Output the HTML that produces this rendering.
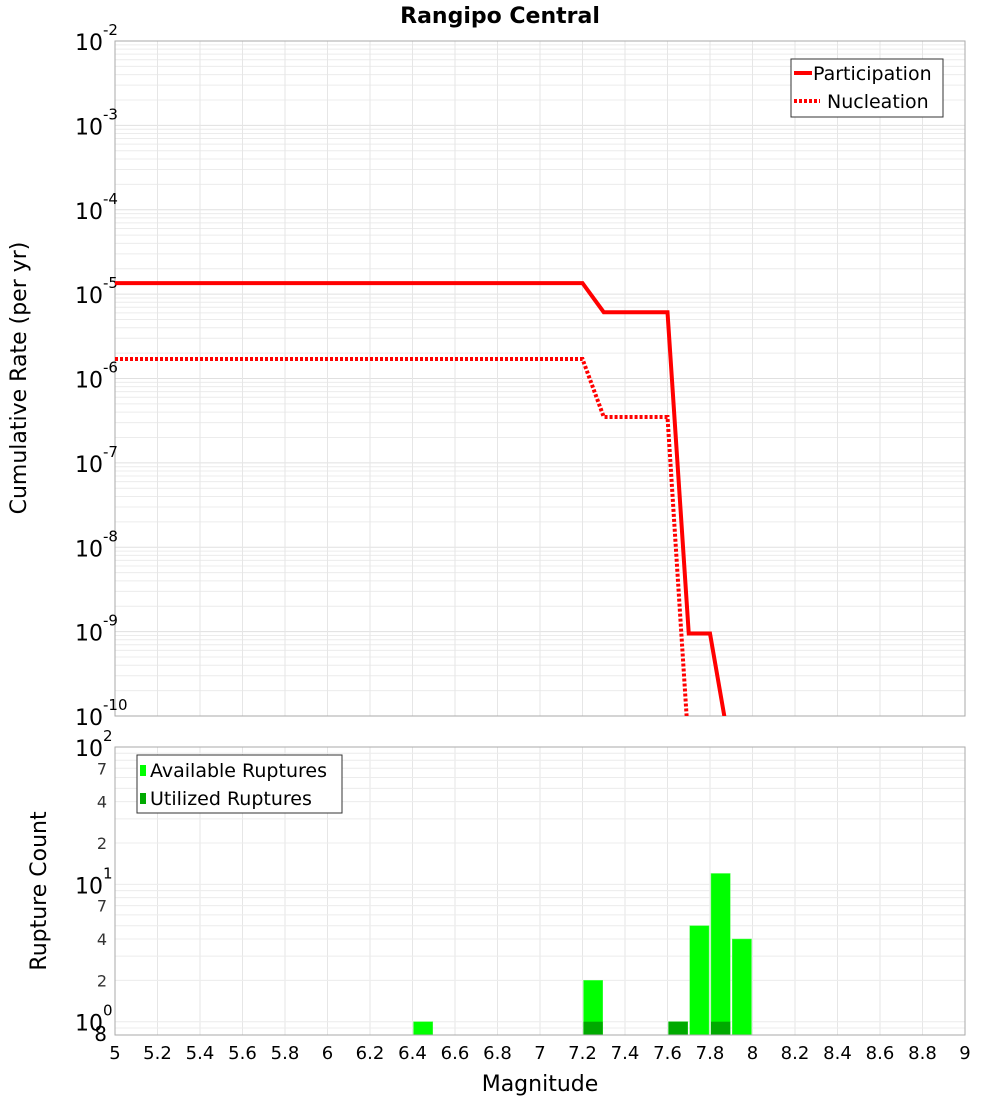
<!DOCTYPE html>
<html><head><meta charset="utf-8"><style>
body{margin:0;background:#fff;font-family:"Liberation Sans","DejaVu Sans",sans-serif}
svg text{font-family:"DejaVu Sans","Liberation Sans",sans-serif}
</style></head><body>
<svg id="chart" width="1000" height="1100" xmlns="http://www.w3.org/2000/svg">
<rect width="1000" height="1100" fill="#fff"/>
<text x="500" y="23" text-anchor="middle" font-size="22" font-weight="bold">Rangipo Central</text>
<g id="topg"></g><g id="botg"></g>
<text transform="translate(26,378) rotate(-90)" text-anchor="middle" font-size="22">Cumulative Rate (per yr)</text>
<text transform="translate(46,891) rotate(-90)" text-anchor="middle" font-size="22">Rupture Count</text>
<text x="540" y="1091" text-anchor="middle" font-size="22">Magnitude</text>
</svg>
<script>
const partMags=[5,7.2,7.3,7.6,7.7,7.8,7.9];
const partRates=[1.35e-5,1.35e-5,6.1e-6,6.1e-6,9.5e-10,9.5e-10,1e-12];
const nuclMags=[5,7.2,7.3,7.6,7.7];
const nuclRates=[1.7e-6,1.7e-6,3.5e-7,3.5e-7,4e-11];
const binMags=[6.45,7.25,7.65,7.75,7.85,7.95];
const availCounts=[1,2,1,5,12,4];
const utilMags=[7.25,7.65,7.85];
const utilCounts=[1,1,1];
const xTicks=[5,5.2,5.4,5.6,5.8,6,6.2,6.4,6.6,6.8,7,7.2,7.4,7.6,7.8,8,8.2,8.4,8.6,8.8,9];
const topExps=[-2,-3,-4,-5,-6,-7,-8,-9,-10];

const NS="http://www.w3.org/2000/svg";
const L=115,R=965,T1=41,B1=716,T2=747,B2=1035;
const X=m=>L+(m-5)*(R-L)/4;
const Y1=v=>T1+(-2-Math.log10(v))*(B1-T1)/8;
const lmin=Math.log10(0.8),lmax=2;
const Y2=v=>T2+(lmax-Math.log10(v))*(B2-T2)/(lmax-lmin);
function mk(tag,attrs,parent,txt){const e=document.createElementNS(NS,tag);for(const k in attrs)e.setAttribute(k,attrs[k]);if(txt!==undefined)e.textContent=txt;parent.appendChild(e);return e;}
const topG=document.getElementById('topg'),botG=document.getElementById('botg');

for(let e=-10;e<-2;e++)for(let k=1;k<10;k++){const y=Y1(k*Math.pow(10,e));
 const g=mk('line',{x1:L,x2:R,y1:y,y2:y,stroke:k==1?'#e0e0e0':'#ececec','stroke-width':1},topG);
 
 }
xTicks.forEach(m=>{const g=mk('line',{x1:X(m),x2:X(m),y1:T1,y2:B1,stroke:'#e6e6e6'},topG);
 
 
 const g2=mk('line',{x1:X(m),x2:X(m),y1:T2,y2:B2,stroke:'#e6e6e6'},botG);
 
 });
const f1=mk('rect',{x:L,y:T1,width:R-L,height:B1-T1,fill:'none',stroke:'#aaa'},topG);


topExps.forEach(e=>{const y=Y1(Math.pow(10,e));
 const t=mk('text',{x:103,y:y+9,'text-anchor':'end','font-size':22},topG,'10');
 
 
 const s=mk('text',{x:103,y:y-6,'font-size':15},topG,String(e));
 
 });
const defs=mk('defs',{},document.getElementById('chart'));
const cp=mk('clipPath',{id:'c1'},defs);mk('rect',{x:L,y:T1,width:R-L,height:B1-T1},cp);
function poly(ms,vs,dash,name){const pts=ms.map((m,i)=>X(m)+','+Math.min(Y1(vs[i]),B1+40)).join(' ');
 const p=mk('polyline',{points:pts,fill:'none',stroke:'#ff0000','stroke-width':4,'stroke-dasharray':dash,'clip-path':'url(#c1)'},topG);
 
 }
poly(partMags,partRates,'none','participation-line');
poly(nuclMags,nuclRates,'3,2','nucleation-line');
const lg=mk('g',{},topG);


mk('rect',{x:791,y:59,width:152,height:58,fill:'#fff',stroke:'#333'},lg);
mk('line',{x1:794,x2:812,y1:73,y2:73,stroke:'#f00','stroke-width':4},lg);
mk('line',{x1:794,x2:820,y1:101,y2:101,stroke:'#f00','stroke-width':4,'stroke-dasharray':'3,2'},lg);
mk('text',{x:813,y:80,'font-size':19},lg,'Participation');
mk('text',{x:827,y:108,'font-size':19},lg,'Nucleation');

for(let e=-1;e<2;e++)for(let k=1;k<10;k++){const v=k*Math.pow(10,e);if(v<0.8)continue;const y=Y2(v);
 const g=mk('line',{x1:L,x2:R,y1:y,y2:y,stroke:'#ececec'},botG);
 
 }
availCounts.forEach((c,i)=>{const r=mk('rect',{x:X(binMags[i]-0.05)+1,y:Y2(c),width:X(5.1)-X(5)-2,height:B2-Y2(c),fill:'#00ff00',stroke:'#5f5','stroke-width':0.5},botG);
 
 });
utilCounts.forEach((c,i)=>{const r=mk('rect',{x:X(utilMags[i]-0.05)+1,y:Y2(c),width:X(5.1)-X(5)-2,height:B2-Y2(c),fill:'#00aa00'},botG);
 
 });
const f2=mk('rect',{x:L,y:T2,width:R-L,height:B2-T2,fill:'none',stroke:'#aaa'},botG);


[[100,'2'],[10,'1'],[1,'0']].forEach(([v,e])=>{const y=Y2(v);
 const t=mk('text',{x:103,y:y+9,'text-anchor':'end','font-size':22},botG,'10');
 
 
 const s=mk('text',{x:103,y:y-6,'font-size':15},botG,e);
 
 });
[[70,'7'],[40,'4'],[20,'2'],[7,'7'],[4,'4'],[2,'2'],[0.8,'8']].forEach(([v,l])=>{const y=Y2(v);
 const t=mk('text',{x:107,y:y+6,'text-anchor':'end','font-size':v==0.8?20:16,fill:v==0.8?'#000':'#333'},botG,l);
 
 });
xTicks.forEach(m=>{const t=mk('text',{x:X(m),y:1059,'text-anchor':'middle','font-size':18},botG,String(m));
 
 });
const lg2=mk('g',{},botG);


mk('rect',{x:137,y:755,width:205,height:58,fill:'#fff',stroke:'#333'},lg2);
mk('rect',{x:140,y:765,width:6,height:11,fill:'#00ff00'},lg2);
mk('rect',{x:140,y:793,width:6,height:11,fill:'#00aa00'},lg2);
mk('text',{x:150,y:777,'font-size':19},lg2,'Available Ruptures');
mk('text',{x:150,y:805,'font-size':19},lg2,'Utilized Ruptures');
</script>
</body></html>
